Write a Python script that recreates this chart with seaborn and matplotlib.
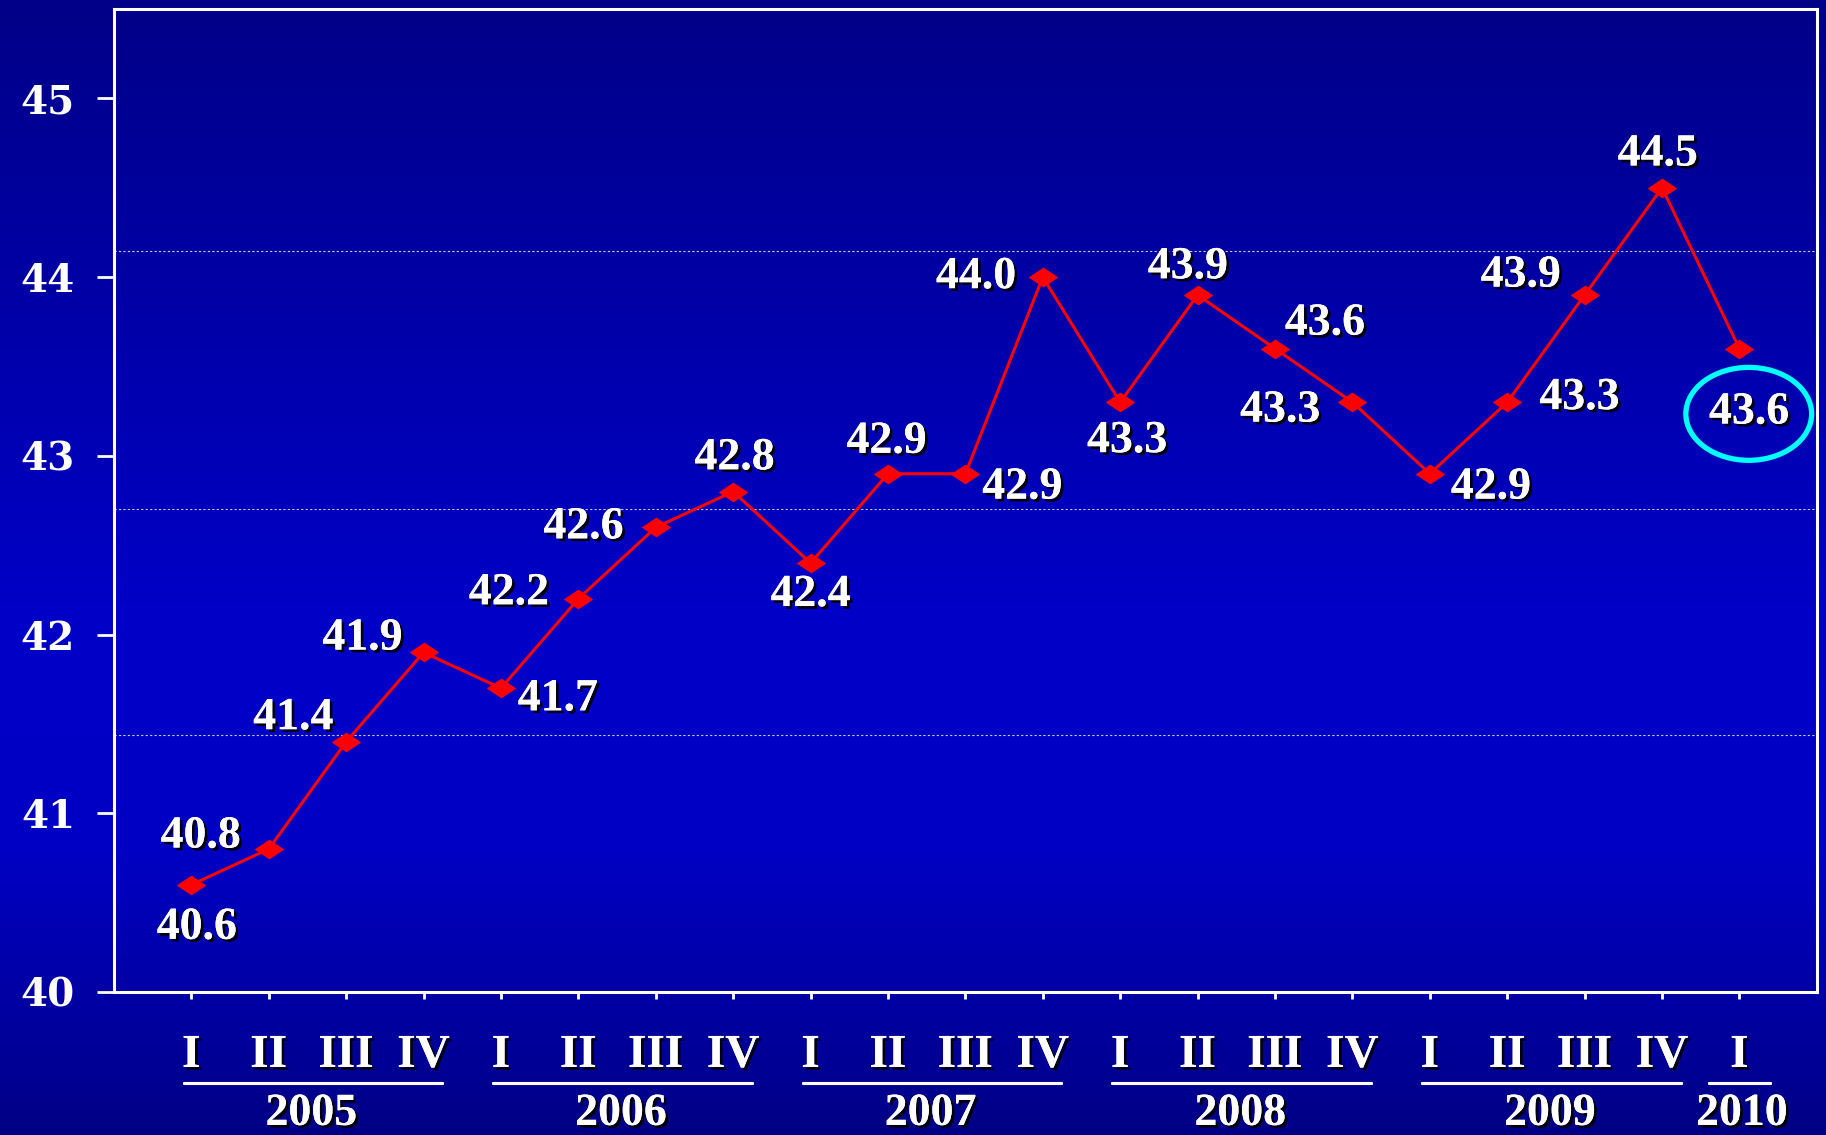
import numpy as np
import pandas as pd
import seaborn as sns
import matplotlib.pyplot as plt
import matplotlib.patheffects as pe
from matplotlib.patches import Ellipse
from matplotlib.colors import LinearSegmentedColormap

# data
quarters = ["I", "II", "III", "IV"] * 5 + ["I"]
years = ["2005", "2006", "2007", "2008", "2009", "2010"]
values = [40.6, 40.8, 41.4, 41.9, 41.7, 42.2, 42.6, 42.8, 42.4, 42.9, 42.9,
          44.0, 43.3, 43.9, 43.6, 43.3, 42.9, 43.3, 43.9, 44.5, 43.6]
# label offsets in points (dx, dy)
label_offsets = [(4, -31), (-49, 9), (-38, 17), (-44, 10), (41, -8), (-50, 4),
                 (-52, 0), (1, 24), (0, -23), (-1, 23), (41, -10), (-48, 0),
                 (5, -28), (-7, 20), (36, 18), (-52, -6), (44, -10), (52, 3),
                 (-46, 14), (-3, 24), (7, -46)]
grid_levels = [44.146, 42.705, 41.44]

df = pd.DataFrame({"idx": range(len(values)), "value": values})

sns.set_theme(style="white")
plt.rcParams["font.family"] = ["Liberation Serif", "DejaVu Serif"]

fig = plt.figure(figsize=(18.26, 11.35), dpi=100)

# background gradient
bg = fig.add_axes([0, 0, 1, 1], zorder=0)
cmap = LinearSegmentedColormap.from_list(
    "bg", [(0.0, "#000088"), (0.55, "#0000C8"), (0.75, "#0000C4"), (1.0, "#000086")])
grad = np.linspace(0, 1, 256).reshape(-1, 1)
bg.imshow(grad, aspect="auto", cmap=cmap, extent=[0, 1, 0, 1], origin="upper")
bg.axis("off")

ax = fig.add_axes([0.0624, 0.126, 0.9326, 0.866], zorder=1)
ax.set_facecolor("none")

for g in grid_levels:
    ax.axhline(g, color="#c8c8ff", lw=0.8, ls=(0, (2, 2)), zorder=1)

diamond = [(-1.5, 0), (0, 1), (1.5, 0), (0, -1), (-1.5, 0)]
sns.lineplot(data=df, x="idx", y="value", ax=ax, color="red", lw=2.2,
             marker=diamond, markersize=20, markeredgecolor="red",
             markerfacecolor="red", zorder=3)

shadow = [pe.withSimplePatchShadow(offset=(2, -2), shadow_rgbFace="black", alpha=0.9),
          pe.Normal()]
for i, (v, (dx, dy)) in enumerate(zip(values, label_offsets)):
    ax.annotate(f"{v:.1f}", (i, v), xytext=(dx, dy), textcoords="offset points",
                ha="center", va="center", fontsize=33, fontweight="bold",
                color="white", path_effects=shadow, zorder=4)

# highlight last value
ax.add_patch(Ellipse((len(values) - 1 + 0.12, values[-1] - 0.365), 1.625, 0.52,
                     fill=False, edgecolor="#00FFFF", lw=3.8, zorder=5))

ax.set_xlim(-1, 21)
ax.set_ylim(40, 45.5)
ax.set_yticks([40, 41, 42, 43, 44, 45])
ax.set_xticks(range(len(values)))
ax.set_xticklabels([])
ax.tick_params(axis="y", colors="white", length=12, width=2, direction="out", pad=16,
               left=True)
ax.tick_params(axis="x", colors="white", length=5, width=2, direction="out", bottom=True)
for lab in ax.get_yticklabels():
    lab.set_fontfamily("DejaVu Serif")
    lab.set_fontweight("bold")
    lab.set_fontsize(28)
    lab.set_color("white")
for s in ax.spines.values():
    s.set_color("white")
    s.set_linewidth(2.2)
ax.set_xlabel("")
ax.set_ylabel("")

trans = ax.get_xaxis_transform()
for i, q in enumerate(quarters):
    ax.text(i, -0.065, q, transform=trans, ha="center", va="center", fontsize=34,
            fontweight="bold", color="white", path_effects=shadow, clip_on=False)

starts = [0, 4, 8, 12, 16, 20]
for y, s in zip(years, starts):
    if s < 20:
        x0, x1, xc = s - 0.1, s + 3.24, s + 1.55
    else:
        x0, x1, xc = s - 0.4, s + 0.39, s + 0.03
    ax.plot([x0, x1], [-0.0926, -0.0926], transform=trans, color="white", lw=2.2,
            clip_on=False, path_effects=[pe.withSimplePatchShadow(offset=(1, -1),
                                         shadow_rgbFace="black", alpha=0.6), pe.Normal()])
    ax.text(xc, -0.124, y, transform=trans, ha="center", va="center", fontsize=33,
            fontweight="bold", color="white", path_effects=shadow, clip_on=False)

fig.savefig("out.png", dpi=100)
